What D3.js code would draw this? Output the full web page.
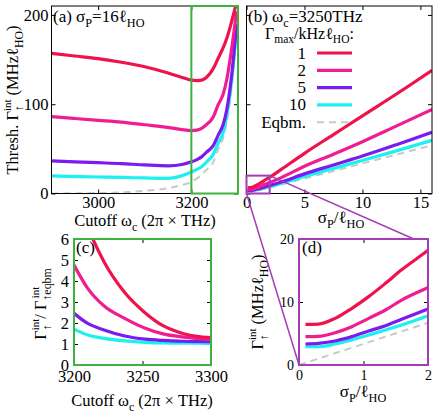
<!DOCTYPE html>
<html>
<head>
<meta charset="utf-8">
<script src="https://cdn.jsdelivr.net/npm/d3@7"></script>
<style>
  body { margin: 0; background: #fff; }
  svg { display: block; font-family: "Liberation Serif", "DejaVu Serif", serif; }
  svg text { font-family: "Liberation Serif", "DejaVu Serif", serif !important; }
</style>
</head>
<body>
<svg class="chart" width="443" height="418"></svg>
<script>
// ---- data ----
var gammaMax = ["1", "2", "5", "10"];
var colors = ["#f0124c", "#f01c92", "#7b1bf0", "#1cf0f0"];
var eqbmColor = "#c8c8c8";

// (a) threshold vs cutoff, sigma_P = 16
var cutoffA = [2900, 2950, 3000, 3050, 3100, 3150, 3180, 3200, 3212, 3222, 3232, 3246, 3258, 3268, 3276, 3283, 3290, 3297];
var threshA1  = [157, 154, 151, 147, 142, 135, 130, 127, 126.5, 127, 130, 139, 152, 163, 174, 186, 200, 214];
var threshA2  = [86, 84, 82, 80, 77, 74, 71.5, 70.5, 71, 73, 77, 85, 100, 111, 128, 150, 176, 204];
var threshA5  = [36.5, 35.5, 34.5, 33.5, 32, 31, 32.5, 35.5, 38, 41, 46, 53, 66, 77, 94, 118, 150, 190];
var threshA10 = [19.7, 19, 18.5, 18, 17.4, 17, 20, 24, 27, 30, 35, 43, 57, 68, 88, 112, 145, 185];
var eqbmA     = [0, 0.2, 0.5, 1.2, 3, 6, 9.5, 13, 17, 21, 26.5, 34, 50, 62, 80, 104, 138, 182];

// (b)/(d) threshold vs sigma_P, cutoff 3250
var sigma = [0.1, 0.3, 0.56, 0.82, 1.08, 1.34, 1.59, 2, 3, 5, 7.5, 10, 13, 16];
var threshB1  = [6.45, 6.5, 7.4, 9.0, 10.85, 12.96, 15.1, 18.2, 27, 45, 66, 87, 112, 138];
var threshB2  = [4.5, 4.55, 5.13, 6.08, 7.4, 8.73, 10.3, 12.3, 17.8, 30.5, 44, 58, 76, 94];
var threshB5  = [3.33, 3.44, 3.81, 4.5, 5.4, 6.24, 7.25, 8.9, 12.9, 22, 32, 42, 55, 68.5];
var threshB10 = [2.9, 2.9, 3.33, 3.97, 4.76, 5.56, 6.35, 7.8, 11.2, 19, 28, 37, 48, 59.5];
var sigmaEqbm = [0, 2, 16];
var eqbmB     = [0, 6.7, 54];

// (c) ratio to equilibrium
var cutoffC = [3200, 3210, 3222, 3237, 3252, 3265, 3280, 3300];
var ratioC1  = [8.5, 6.6, 4.9, 3.45, 2.48, 1.87, 1.49, 1.3];
var ratioC2  = [4.76, 3.65, 2.81, 2.22, 1.75, 1.48, 1.33, 1.22];
var ratioC5  = [2.46, 1.98, 1.67, 1.38, 1.23, 1.17, 1.13, 1.11];
var ratioC10 = [1.71, 1.43, 1.27, 1.15, 1.08, 1.05, 1.04, 1.03];

var ticksA = [3000, 3200], ticksAy = [0, 100, 200];
var ticksB = [0, 5, 10, 15];
var ticksC = [3200, 3250, 3300], ticksCy = [0, 1, 2, 3, 4, 5, 6];
var ticksD = [0, 1, 2], ticksDy = [0, 10, 20];

var svg = d3.select(".chart");
var green = "#3db33d", violet = "#a43cb4";
var serif = '"Liberation Serif", serif';

function zip(xs, ys) { return xs.map(function(x, i) { return [x, ys[i]]; }); }

// rich text helper: parts = [text, mode, dx]
function rich(sel, parts, base) {
    parts.forEach(function(p) {
        var t = sel.append("tspan").text(p[0]);
        if (p[1] == "sub") t.attr("baseline-shift", -base * 0.28).attr("font-size", base * 0.72);
        else if (p[1] == "sup") t.attr("baseline-shift", base * 0.42).attr("font-size", base * 0.66);
        else t.attr("font-size", base);
        if (p[2]) t.attr("dx", p[2]);
    });
    return sel;
}

var clipId = 0;
function panel(box, xd, yd, opt) {
    var x = d3.scaleLinear().domain(xd).range([box.l, box.r]);
    var y = d3.scaleLinear().domain(yd).range([box.b, box.t]);
    var g = svg.append("g");
    var id = "clip" + (clipId++);
    g.append("clipPath").attr("id", id).append("rect")
        .attr("x", box.l).attr("y", box.t).attr("width", box.r - box.l).attr("height", box.b - box.t);
    var fs = opt.tickFont || 16.5;
    var fmt = d3.format("d");
    var axes = [
        [d3.axisBottom(x).tickValues(opt.xt), "translate(0," + box.b + ")", opt.xlab],
        [d3.axisTop(x).tickValues(opt.xt), "translate(0," + box.t + ")", false],
        [d3.axisLeft(y).tickValues(opt.yt), "translate(" + box.l + ",0)", opt.ylab],
        [d3.axisRight(y).tickValues(opt.yt), "translate(" + box.r + ",0)", false]
    ];
    axes.forEach(function(a) {
        var ax = g.append("g").attr("transform", a[1])
            .call(a[0].tickSize(-4).tickSizeOuter(0).tickPadding(opt.pad || 4).tickFormat(fmt));
        ax.attr("font-family", serif).attr("font-size", fs);
        ax.select(".domain").remove();
        ax.selectAll("line").attr("stroke", "#000");
        ax.selectAll("text").attr("font-family", serif).attr("font-size", fs).attr("fill", "#000");
        if (!a[2]) ax.selectAll("text").remove();
    });
    var plot = g.append("g").attr("clip-path", "url(#" + id + ")");
    return { x: x, y: y, g: g, plot: plot, box: box };
}

function drawLine(p, pts, color, dashed) {
    var line = d3.line().x(function(d) { return p.x(d[0]); }).y(function(d) { return p.y(d[1]); })
        .curve(d3.curveMonotoneX);
    p.plot.append("path").datum(pts)
        .attr("fill", "none")
        .attr("stroke", color)
        .attr("stroke-width", dashed ? 2 : 3.2)
        .attr("stroke-dasharray", dashed ? "7,5" : null)
        .attr("d", line);
}

function frame(p, color, w) {
    var b = p.box;
    p.g.append("rect").attr("x", b.l).attr("y", b.t).attr("width", b.r - b.l).attr("height", b.b - b.t)
        .attr("fill", "none").attr("stroke", color || "#000").attr("stroke-width", w || 1);
}

// ---------- (a) ----------
var pa = panel({ l: 51.5, r: 238, t: 6, b: 193.5 }, [2900, 3300], [0, 210],
    { xt: ticksA, yt: ticksAy, xlab: true, ylab: true, pad: 3 });
drawLine(pa, zip(cutoffA, eqbmA), eqbmColor, true);
[threshA10, threshA5, threshA2, threshA1].forEach(function(s, i) {
    drawLine(pa, zip(cutoffA, s), colors[3 - i]);
});
frame(pa);
pa.g.append("rect")
    .attr("x", pa.x(3200)).attr("y", pa.y(210))
    .attr("width", pa.x(3300) - pa.x(3200)).attr("height", pa.y(0) - pa.y(210))
    .attr("fill", "none").attr("stroke", green).attr("stroke-width", 2);

rich(pa.g.append("text").attr("x", 53).attr("y", 22),
    [["(a) σ"], ["P", "sub"], ["=16ℓ", null, 0], ["HO", "sub"]], 17);
rich(pa.g.append("text").attr("text-anchor", "middle").attr("x", 145).attr("y", 226),
    [["Cutoff ω"], ["c", "sub"], [" (2π × THz)"]], 16.5);
rich(pa.g.append("text").attr("text-anchor", "middle").attr("transform", "translate(18,100) rotate(-90)"),
    [["Thresh. Γ"], ["↑", "sub"], ["int", "sup", -6], [" (MHzℓ"], ["HO", "sub"], [")"]], 16.5);

// ---------- (b) ----------
var pb = panel({ l: 246.5, r: 432, t: 6, b: 193.5 }, [0, 16], [0, 210],
    { xt: ticksB, yt: ticksAy, xlab: true, ylab: false, pad: 3 });
drawLine(pb, zip(sigmaEqbm, eqbmB), eqbmColor, true);
[threshB10, threshB5, threshB2, threshB1].forEach(function(s, i) {
    drawLine(pb, zip(sigma, s), colors[3 - i]);
});
frame(pb);
rich(pb.g.append("text").attr("x", 248).attr("y", 22),
    [["(b) ω"], ["c", "sub"], ["=3250THz"]], 17);
rich(pb.g.append("text").attr("x", 265).attr("y", 39),
    [["Γ"], ["max", "sub"], ["/kHzℓ"], ["HO", "sub"], [":"]], 16);
var legend = gammaMax.concat(["Eqbm."]);
legend.forEach(function(lab, i) {
    var yy = 53 + i * 17.3;
    pb.g.append("text").attr("x", 306).attr("y", yy + 5.5).attr("text-anchor", "end")
        .attr("font-size", 17).text(lab);
    pb.g.append("line").attr("x1", 317).attr("x2", 352).attr("y1", yy).attr("y2", yy)
        .attr("stroke", i < 4 ? colors[i] : eqbmColor)
        .attr("stroke-width", i < 4 ? 3.2 : 2)
        .attr("stroke-dasharray", i < 4 ? null : "7,5");
});
rich(pb.g.append("text").attr("text-anchor", "middle").attr("x", 341).attr("y", 223),
    [["σ"], ["P", "sub"], ["/ℓ"], ["HO", "sub"]], 17);

// ---------- (c) ----------
var pc = panel({ l: 74, r: 211, t: 239, b: 365 }, [3200, 3300], [0, 6],
    { xt: ticksC, yt: ticksCy, xlab: true, ylab: true, pad: 5 });
[ratioC10, ratioC5, ratioC2, ratioC1].forEach(function(s, i) {
    drawLine(pc, zip(cutoffC, s), colors[3 - i]);
});
frame(pc, green, 2);
pc.g.append("text").attr("x", 76).attr("y", 253).attr("font-size", 17).text("(c)");
rich(pc.g.append("text").attr("text-anchor", "middle").attr("x", 142).attr("y", 406),
    [["Cutoff ω"], ["c", "sub"], [" (2π × THz)"]], 16.5);
rich(pc.g.append("text").attr("text-anchor", "middle").attr("transform", "translate(46,304) rotate(-90)"),
    [["Γ"], ["↑", "sub"], ["int", "sup", -6], ["/ Γ"], ["↑eqbm", "sub"], ["int", "sup", -30]], 16.5);

// ---------- (d) ----------
var pd = panel({ l: 299, r: 428, t: 239, b: 365 }, [0, 2], [0, 20],
    { xt: ticksD, yt: ticksDy, xlab: true, ylab: true, tickFont: 14, pad: 5 });
drawLine(pd, zip(sigmaEqbm, eqbmB), eqbmColor, true);
[threshB10, threshB5, threshB2, threshB1].forEach(function(s, i) {
    drawLine(pd, zip(sigma, s), colors[3 - i]);
});
frame(pd, violet, 2);
pd.g.append("text").attr("x", 302).attr("y", 253).attr("font-size", 17).text("(d)");
rich(pd.g.append("text").attr("text-anchor", "middle").attr("x", 363).attr("y", 397),
    [["σ"], ["P", "sub"], ["/ℓ"], ["HO", "sub"]], 17);
rich(pd.g.append("text").attr("text-anchor", "middle").attr("transform", "translate(263,302) rotate(-90)"),
    [["Γ"], ["↑", "sub"], ["int", "sup", -6], [" (MHzℓ"], ["HO", "sub"], [")"]], 16.5);

// zoom box in (b) and connectors to (d)
var zb = svg.append("g").attr("stroke", violet).attr("fill", "none");
zb.append("rect")
    .attr("x", pb.x(0)).attr("y", pb.y(20))
    .attr("width", pb.x(2) - pb.x(0)).attr("height", pb.y(0) - pb.y(20))
    .attr("stroke-width", 2);
zb.append("line").attr("x1", pb.x(0)).attr("y1", pb.y(0)).attr("x2", pd.x(0)).attr("y2", pd.y(0))
    .attr("stroke-width", 1.5);
zb.append("line").attr("x1", pb.x(2)).attr("y1", pb.y(20)).attr("x2", pd.x(1.78)).attr("y2", pd.y(20))
    .attr("stroke-width", 1.5);
</script>
</body>
</html>
